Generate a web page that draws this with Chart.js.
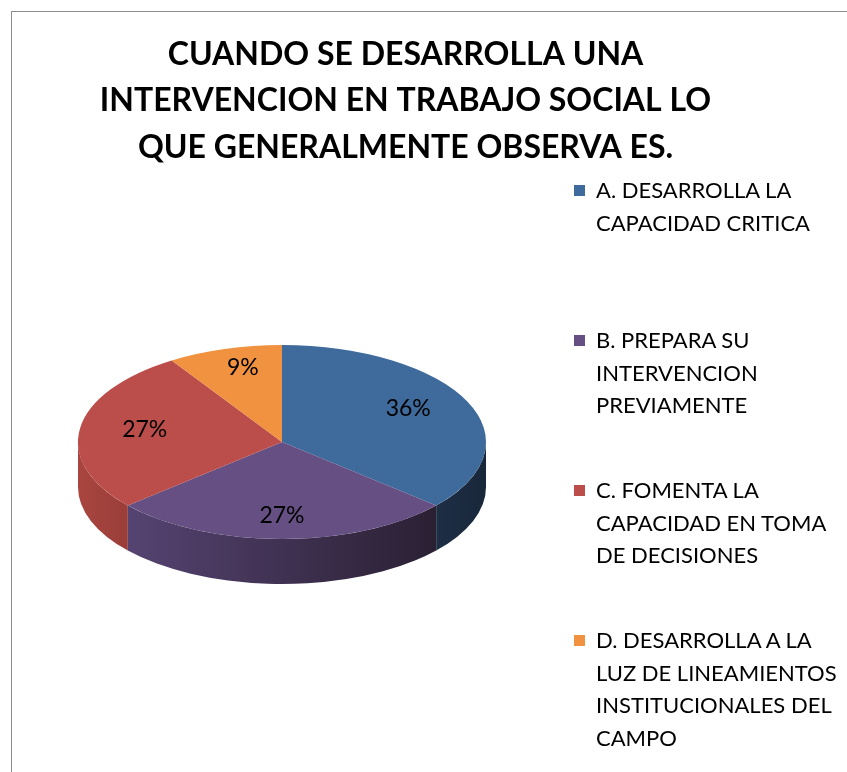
<!DOCTYPE html>
<html>
<head>
<meta charset="utf-8">
<script src="https://cdn.jsdelivr.net/npm/chart.js@4.4.1/dist/chart.umd.min.js"></script>
<style>
  html, body { margin: 0; padding: 0; background: #fff; overflow: hidden; }
  #page { position: relative; width: 847px; height: 772px; overflow: hidden; }
  #frame { position: absolute; left: 11px; top: 11px; width: 900px; height: 900px; border: 1px solid #8c8c8c; }
  #wrap { position: absolute; left: 0; top: 0; width: 847px; height: 772px; }
  #legend { position: absolute; left: 574px; top: 174px; font-family: Lato, "Noto Sans", sans-serif; font-size: 22px; color: #000; }
  .item { position: relative; height: 150px; }
  .sw { position: absolute; left: 0; top: 11px; width: 11px; height: 11px; }
  .txt { position: absolute; left: 22px; top: 0; line-height: 32.5px; white-space: nowrap; }
</style>
</head>
<body>
<div id="page">
  <div id="frame"></div>
  <div id="wrap"><canvas id="chart"></canvas></div>
  <div id="legend"></div>
</div>
<script>
const titleLines = ['CUANDO SE DESARROLLA UNA', 'INTERVENCION EN TRABAJO SOCIAL LO', 'QUE GENERALMENTE OBSERVA ES.'];
const categories = [
  ['A. DESARROLLA LA', 'CAPACIDAD CRITICA'],
  ['B. PREPARA SU', 'INTERVENCION', 'PREVIAMENTE'],
  ['C. FOMENTA LA', 'CAPACIDAD EN TOMA', 'DE DECISIONES'],
  ['D. DESARROLLA A LA', 'LUZ DE LINEAMIENTOS', 'INSTITUCIONALES DEL', 'CAMPO']
];
const counts = [4, 3, 3, 1];

const topColors  = ['#3e6a9c', '#664f83', '#bb4d4a', '#f0923f'];
const sideColors = [['#1d2e45', '#19273a'], ['#554371', '#2a2033'], ['#a9453f', '#9a3e3a'], ['#d07a30', '#b86a28']];

// ellipse of the 3d pie on screen
const CX = 282, CY = 442, RX = 204, RY = 97, DEPTH = 45;

const pie3d = {
  id: 'pie3d',
  beforeDatasetsDraw(chart) {
    const ctx = chart.ctx;
    const arcs = chart.getDatasetMeta(0).data;
    ctx.save();
    // side walls (front half only)
    arcs.forEach((arc, i) => {
      const a = Math.max(arc.startAngle, 0), b = Math.min(arc.endAngle, Math.PI);
      if (b <= a) return;
      const x1 = CX + RX * Math.cos(a), x2 = CX + RX * Math.cos(b);
      const g = ctx.createLinearGradient(Math.min(x1, x2), 0, Math.max(x1, x2), 0);
      g.addColorStop(0, sideColors[i][0]);
      g.addColorStop(1, sideColors[i][1]);
      ctx.fillStyle = g;
      ctx.beginPath();
      ctx.ellipse(CX, CY, RX, RY, 0, a, b);
      ctx.ellipse(CX, CY + DEPTH, RX, RY, 0, b, a, true);
      ctx.closePath();
      ctx.fill();
    });
    // squash the flat pie into the top face
    const r = arcs[0].outerRadius;
    ctx.translate(CX, CY);
    ctx.scale(RX / r, RY / r);
    ctx.translate(-arcs[0].x, -arcs[0].y);
  },
  afterDatasetsDraw(chart) {
    const ctx = chart.ctx;
    ctx.restore();
    const arcs = chart.getDatasetMeta(0).data;
    const total = counts.reduce((s, v) => s + v, 0);
    ctx.save();
    ctx.font = '23px Lato, "Noto Sans", sans-serif';
    ctx.fillStyle = '#000';
    ctx.textAlign = 'center';
    ctx.textBaseline = 'middle';
    arcs.forEach((arc, i) => {
      const mid = (arc.startAngle + arc.endAngle) / 2;
      const x = CX + Math.cos(mid) * RX * 0.68;
      const y = CY + Math.sin(mid) * RY * 0.78 - 2;
      ctx.fillText(Math.round(counts[i] / total * 100) + '%', x, y);
    });
    ctx.restore();
  }
};

new Chart(document.getElementById('chart'), {
  type: 'pie',
  data: {
    labels: categories,
    datasets: [{ data: counts, backgroundColor: topColors, borderWidth: 0, clip: false }]
  },
  options: {
    responsive: true,
    maintainAspectRatio: false,
    animation: false,
    events: [],
    layout: { padding: { left: 0, right: 36, top: 0, bottom: 0 } },
    plugins: {
      legend: { display: false },
      tooltip: { enabled: false },
      title: {
        display: true,
        text: titleLines,
        color: '#000',
        font: { family: 'Lato, "Noto Sans", sans-serif', size: 32, weight: 'bold', lineHeight: 1.44 },
        padding: { top: 32, bottom: 10 }
      }
    }
  },
  plugins: [pie3d]
});

const legend = document.getElementById('legend');
categories.forEach((lines, i) => {
  const item = document.createElement('div');
  item.className = 'item';
  item.innerHTML = '<div class="sw" style="background:' + topColors[i] + '"></div>' +
    '<div class="txt">' + lines.join('<br>') + '</div>';
  legend.appendChild(item);
});
</script>
</body>
</html>
